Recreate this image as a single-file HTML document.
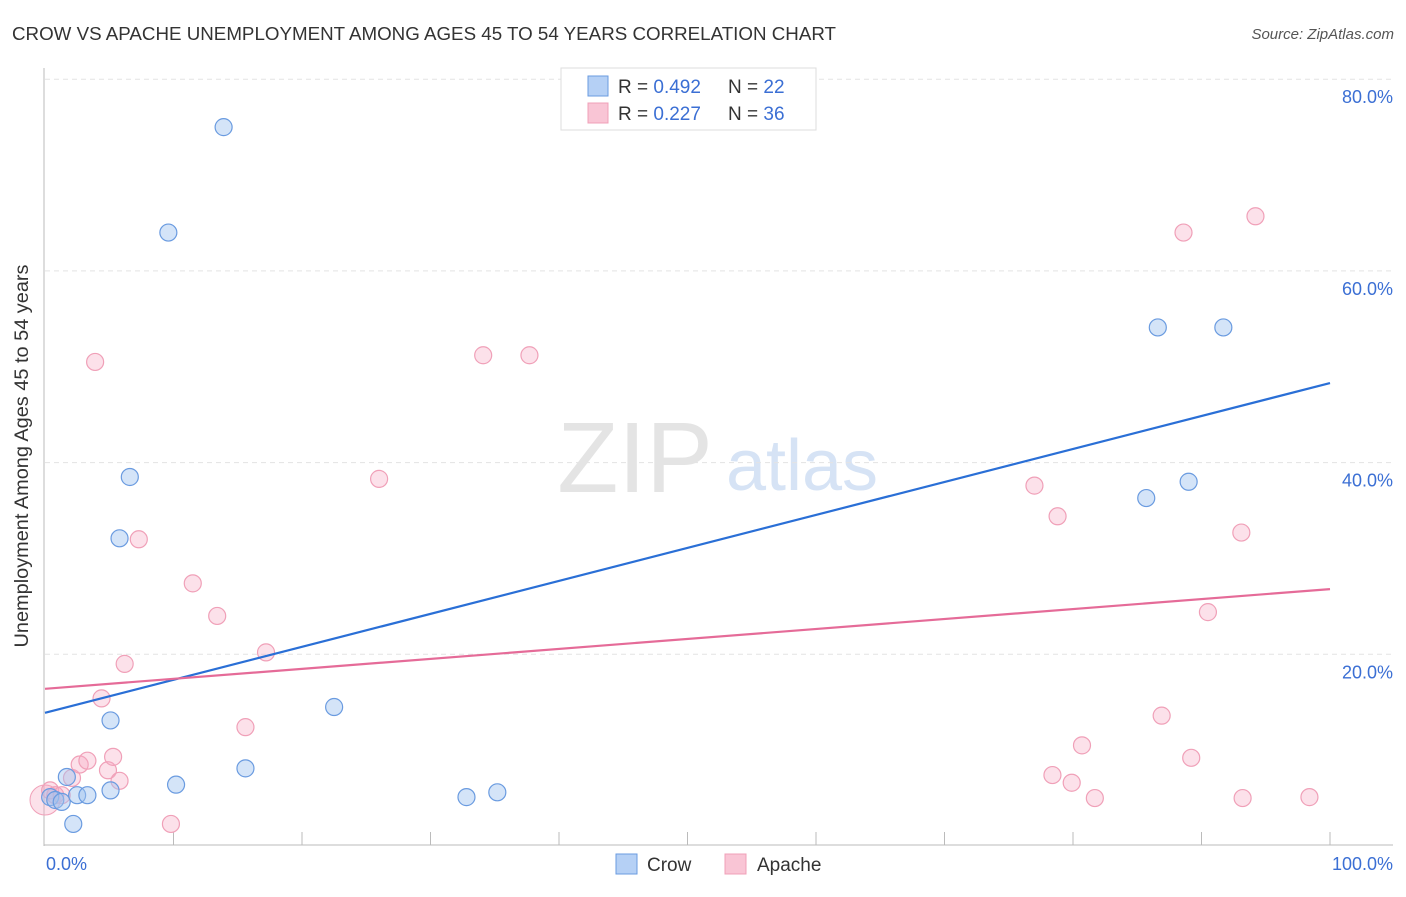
<!DOCTYPE html>
<html><head><meta charset="utf-8"><style>
body{margin:0;background:#fff;font-family:"Liberation Sans",sans-serif;}
svg text{font-family:"Liberation Sans",sans-serif;}
</style></head><body>
<svg width="1406" height="892" xmlns="http://www.w3.org/2000/svg">
<text x="12" y="40" font-size="18.5" fill="#333" textLength="824" lengthAdjust="spacingAndGlyphs">CROW VS APACHE UNEMPLOYMENT AMONG AGES 45 TO 54 YEARS CORRELATION CHART</text>
<text x="1394" y="39" font-size="15" fill="#555" text-anchor="end" font-style="italic">Source: ZipAtlas.com</text>
<text x="635" y="492" font-size="100" fill="#e4e4e4" font-family="Liberation Serif" text-anchor="middle">ZIP</text>
<text x="802" y="490" font-size="72" fill="#d6e3f5" text-anchor="middle">atlas</text>
<g id="grid"></g>
<g id="axes"></g>
<g id="marks"></g>
<text x="28" y="456" font-size="19" fill="#333" text-anchor="middle" textLength="383" lengthAdjust="spacingAndGlyphs" transform="rotate(-90 28 456)">Unemployment Among Ages 45 to 54 years</text>
<text x="46" y="870" font-size="18" fill="#3b6fd4">0.0%</text>
<text x="1393" y="870" font-size="18" fill="#3b6fd4" text-anchor="end">100.0%</text>
<g>
<rect x="561" y="68" width="255" height="62" fill="#fff" stroke="#ddd"/>
<rect x="588" y="76" width="20" height="20" fill="#b5d0f5" stroke="#6a9be0"/>
<rect x="588" y="103" width="20" height="20" fill="#f9c5d5" stroke="#f0a0b8"/>
<text x="618" y="93" font-size="19" fill="#333">R = <tspan fill="#3b6fd4">0.492</tspan><tspan x="728">N = </tspan><tspan fill="#3b6fd4">22</tspan></text>
<text x="618" y="120" font-size="19" fill="#333">R = <tspan fill="#3b6fd4"> 0.227</tspan><tspan x="728">N = </tspan><tspan fill="#3b6fd4">36</tspan></text>
</g>
<g>
<rect x="616" y="854" width="21" height="20" fill="#b5d0f5" stroke="#6a9be0"/>
<text x="647" y="871" font-size="19" fill="#333">Crow</text>
<rect x="725" y="854" width="21" height="20" fill="#f9c5d5" stroke="#f0a0b8"/>
<text x="757" y="871" font-size="19" fill="#333">Apache</text>
</g>
</svg>
<script>
const yTicks=[20,40,60,80];
const yTickLabels=["20.0%","40.0%","60.0%","80.0%"];
const xTicks=[10,20,30,40,50,60,70,80,90,100];
const crowX=[0.4,0.8,1.3,1.7,2.2,2.5,3.3,5.1,5.1,5.8,6.6,9.6,10.2,13.9,15.6,22.5,32.8,35.2,85.7,86.6,89.0,91.7];
const crowY=[5.1,4.8,4.6,7.2,2.3,5.3,5.3,5.8,13.1,32.1,38.5,64.0,6.4,75.0,8.1,14.5,5.1,5.6,36.3,54.1,38.0,54.1];
const apacheX=[0,0.4,0.8,1.3,2.1,2.7,3.3,3.9,4.4,4.9,5.3,5.8,6.2,7.3,9.8,11.5,13.4,15.6,17.2,26.0,34.1,37.7,77.0,78.4,78.8,79.9,80.7,81.7,86.9,88.6,89.2,90.5,93.1,93.2,94.2,98.4];
const apacheY=[4.8,5.8,5.3,5.3,7.1,8.5,8.9,50.5,15.4,7.9,9.3,6.8,19.0,32.0,2.3,27.4,24.0,12.4,20.2,38.3,51.2,51.2,37.6,7.4,34.4,6.6,10.5,5.0,13.6,64.0,9.2,24.4,32.7,5.0,65.7,5.1];
const crowTrend=[13.9,48.3];
const apacheTrend=[16.4,26.8];
const NS="http://www.w3.org/2000/svg";
const sx=v=>45+v*12.85;
const sy=v=>846-v*9.585;
function mk(tag,at,parent){const e=document.createElementNS(NS,tag);for(const k in at)e.setAttribute(k,at[k]);parent.appendChild(e);return e;}
const grid=document.getElementById('grid'),axes=document.getElementById('axes'),marks=document.getElementById('marks');
yTicks.forEach((t,i)=>{
 const l=mk('line',{x1:45,x2:1393,y1:sy(t),y2:sy(t),stroke:'#e3e3e3','stroke-dasharray':'5,4'},grid);
 
 
 const tx=mk('text',{x:1393,y:sy(t)+24,'font-size':18,fill:'#3b6fd4','text-anchor':'end'},grid);
 tx.textContent=yTickLabels[i];
 
 
});
const ya=mk('line',{x1:44,x2:44,y1:68,y2:846,stroke:'#bbb'},axes);


const xa=mk('line',{x1:44,x2:1393,y1:845,y2:845,stroke:'#bbb'},axes);


xTicks.forEach(t=>{
 const l=mk('line',{x1:sx(t),x2:sx(t),y1:832,y2:845,stroke:'#bbb'},axes);
 
 
});
const big=mk('circle',{cx:sx(apacheX[0]),cy:sy(apacheY[0]),r:15,fill:'rgba(245,170,195,0.35)',stroke:'#f0a0b8','stroke-width':1},marks);


apacheX.forEach((x,i)=>{ if(i===0)return;
 const c=mk('circle',{cx:sx(x),cy:sy(apacheY[i]),r:8.5,fill:'rgba(245,170,195,0.35)',stroke:'#f0a0b8','stroke-width':1.2},marks);
 
 
});
crowX.forEach((x,i)=>{
 const c=mk('circle',{cx:sx(x),cy:sy(crowY[i]),r:8.5,fill:'rgba(160,195,240,0.45)',stroke:'#6a9be0','stroke-width':1.2},marks);
 
 
});
const ct=mk('line',{x1:sx(0),y1:sy(crowTrend[0]),x2:sx(100),y2:sy(crowTrend[1]),stroke:'#2a6fd6','stroke-width':2.2},marks);


const at=mk('line',{x1:sx(0),y1:sy(apacheTrend[0]),x2:sx(100),y2:sy(apacheTrend[1]),stroke:'#e56b98','stroke-width':2.2},marks);


</script>
</body></html>
